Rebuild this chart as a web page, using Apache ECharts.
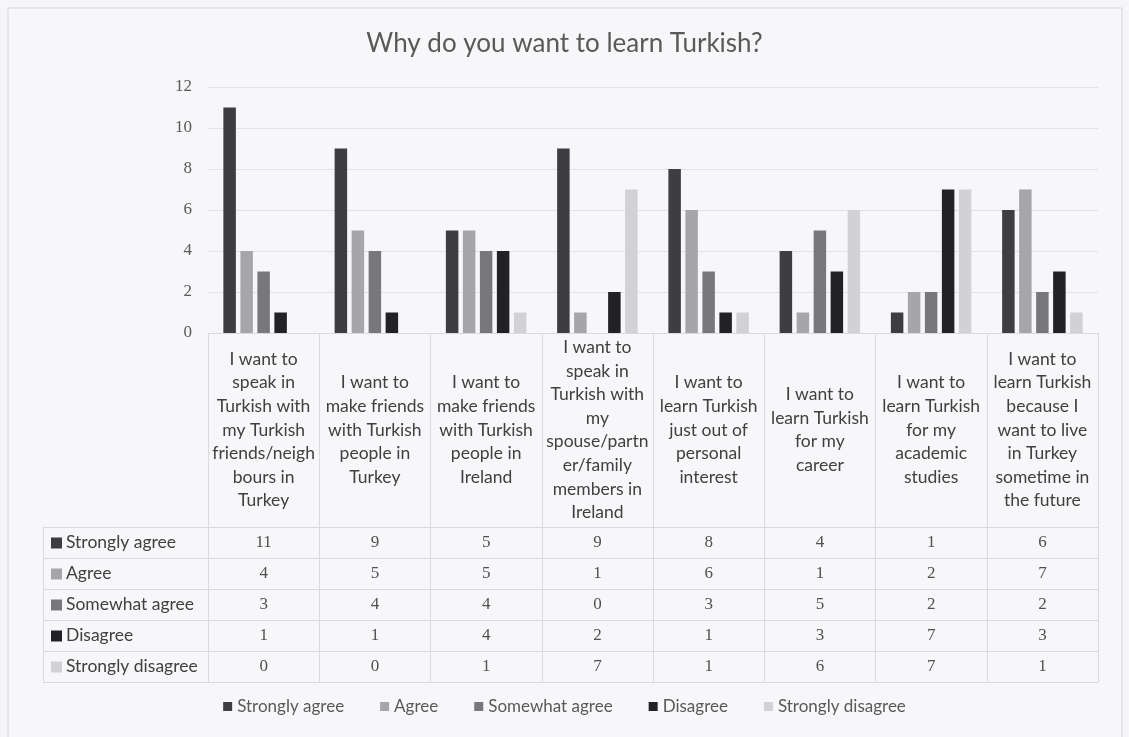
<!DOCTYPE html>
<html>
<head>
<meta charset="utf-8">
<script src="https://cdn.jsdelivr.net/npm/echarts@6/dist/echarts.min.js"></script>
<style>
  html, body { margin: 0; padding: 0; background: #f6f6f9; }
  #chart { width: 1129px; height: 737px; }
</style>
</head>
<body>
<div id="chart"></div>
<script>
// categories (line breaks as in the picture)
var categories = [
  "I want to\nspeak in\nTurkish with\nmy Turkish\nfriends/neigh\nbours in\nTurkey",
  "I want to\nmake friends\nwith Turkish\npeople in\nTurkey",
  "I want to\nmake friends\nwith Turkish\npeople in\nIreland",
  "I want to\nspeak in\nTurkish with\nmy\nspouse/partn\ner/family\nmembers in\nIreland",
  "I want to\nlearn Turkish\njust out of\npersonal\ninterest",
  "I want to\nlearn Turkish\nfor my\ncareer",
  "I want to\nlearn Turkish\nfor my\nacademic\nstudies",
  "I want to\nlearn Turkish\nbecause I\nwant to live\nin Turkey\nsometime in\nthe future"
];
var seriesNames = ["Strongly agree", "Agree", "Somewhat agree", "Disagree", "Strongly disagree"];
var stronglyAgree = [11, 9, 5, 9, 8, 4, 1, 6];
var agree = [4, 5, 5, 1, 6, 1, 2, 7];
var somewhatAgree = [3, 4, 4, 0, 3, 5, 2, 2];
var disagree = [1, 1, 4, 2, 1, 3, 7, 3];
var stronglyDisagree = [0, 0, 1, 7, 1, 6, 7, 1];
var allValues = [stronglyAgree, agree, somewhatAgree, disagree, stronglyDisagree];
var colors = ["#3e3e40", "#a6a6a8", "#78787a", "#222224", "#d2d2d4"];

var textFont = "Lato";
var numFont = "Liberation Serif";
var lineColor = "#dadadc";
var headerH = 194;   // height of the category-name row of the table
var rowH = 31;       // height of each data row
var labelColLeft = 43;

var myChart = echarts.init(document.getElementById("chart"));

var series = [];
for (var i = 0; i < seriesNames.length; i++) {
  series.push({
    name: seriesNames[i],
    type: "bar",
    barWidth: 12.5,
    barGap: "36%",
    itemStyle: { color: colors[i] },
    data: allValues[i]
  });
}

var option = {
  backgroundColor: "#f6f6f9",
  animation: false,
  title: {
    text: "Why do you want to learn Turkish?",
    left: "center",
    top: 26,
    textStyle: { fontFamily: textFont, fontSize: 26, fontWeight: "normal", color: "#595959" }
  },
  legend: {
    bottom: 17,
    left: "center",
    icon: "rect",
    itemWidth: 9,
    itemHeight: 9,
    itemGap: 36,
    textStyle: { fontFamily: textFont, fontSize: 17, color: "#595959" },
    data: seriesNames
  },
  grid: { left: 208, right: 31, top: 87, bottom: 404, containLabel: false },
  xAxis: {
    type: "category",
    data: categories,
    axisLine: { lineStyle: { color: lineColor } },
    axisTick: { show: true, length: headerH + rowH * 5, lineStyle: { color: lineColor } },
    axisLabel: {
      interval: 0,
      margin: headerH / 2,
      verticalAlign: "middle",
      align: "center",
      lineHeight: 23.6,
      fontFamily: textFont,
      fontSize: 17.5,
      color: "#404040"
    }
  },
  yAxis: {
    type: "value",
    min: 0,
    max: 12,
    interval: 2,
    axisLine: { show: false },
    axisTick: { show: false },
    splitLine: { lineStyle: { color: "#e2e2e5" } },
    axisLabel: { margin: 16, fontFamily: numFont, fontSize: 17, color: "#595959" }
  },
  series: series
};
myChart.setOption(option);

// data table under the axis, placed from the axis' own pixel positions
function drawTable() {
  var g = [];
  var axisY = myChart.convertToPixel({ yAxisIndex: 0 }, 0);
  var left = myChart.convertToPixel({ xAxisIndex: 0 }, 0);
  var step = myChart.convertToPixel({ xAxisIndex: 0 }, 1) - left;
  var colLeft = left - step / 2;
  var colRight = colLeft + step * categories.length;
  var top = axisY + headerH;

  // frame round the whole chart
  g.push({
    type: "rect", silent: true, z: -10,
    shape: { x: 8, y: 8, width: 1114, height: 760 },
    style: { fill: "#f7f7fa", stroke: "#d6d6d9", lineWidth: 1 }
  });

  for (var r = 0; r <= seriesNames.length; r++) {
    var y = Math.round(top + r * rowH) + 0.5;
    g.push({
      type: "line", silent: true,
      shape: { x1: labelColLeft, y1: y, x2: colRight, y2: y },
      style: { stroke: lineColor, lineWidth: 1 }
    });
  }
  g.push({
    type: "line", silent: true,
    shape: { x1: labelColLeft + 0.5, y1: top, x2: labelColLeft + 0.5, y2: top + rowH * 5 },
    style: { stroke: lineColor, lineWidth: 1 }
  });

  for (var s = 0; s < seriesNames.length; s++) {
    var cy = top + s * rowH + rowH / 2;
    g.push({
      type: "rect", silent: true,
      shape: { x: labelColLeft + 8, y: cy - 5, width: 11, height: 11 },
      style: { fill: colors[s] }
    });
    g.push({
      type: "text", silent: true,
      x: labelColLeft + 23, y: cy,
      style: {
        text: seriesNames[s], fontFamily: textFont, fontSize: 17.5, fill: "#404040",
        verticalAlign: "middle", align: "left"
      }
    });
    for (var c = 0; c < categories.length; c++) {
      g.push({
        type: "text", silent: true,
        x: myChart.convertToPixel({ xAxisIndex: 0 }, c), y: cy,
        style: {
          text: String(allValues[s][c]), fontFamily: numFont, fontSize: 17, fill: "#505050",
          verticalAlign: "middle", align: "center"
        }
      });
    }
  }
  myChart.setOption({ graphic: { elements: g } });
}
drawTable();
</script>
</body>
</html>
